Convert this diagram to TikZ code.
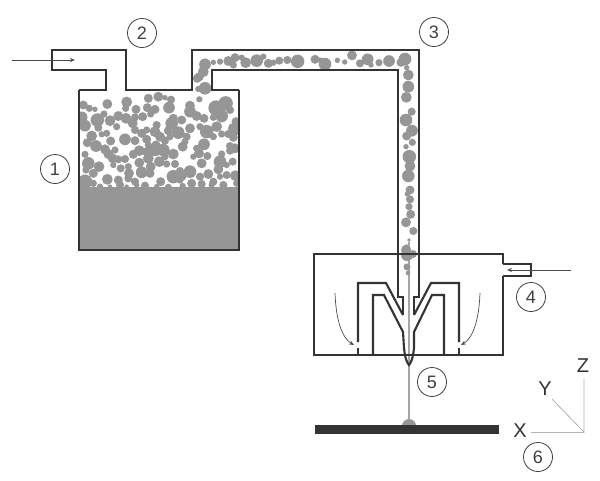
\documentclass[tikz,border=0pt]{standalone}
\usepackage{fontspec}
\setmainfont{Liberation Sans}
\usetikzlibrary{arrows.meta}
\definecolor{wall}{HTML}{333333}
\definecolor{grain}{HTML}{969696}
\tikzset{
  wallline/.style={draw=wall,line width=2.1pt,line join=miter},
  thinwall/.style={draw=wall,line width=1.4pt},
  callout/.style={circle,draw=black!75,line width=0.8pt,minimum size=29pt,inner sep=0pt,font=\fontsize{18}{18}\selectfont,text=black!75},
  axisname/.style={inner sep=0pt,font=\fontsize{20}{20}\selectfont,text=black!80},
  axisline/.style={draw=black!30,line width=0.8pt},
  flow/.style={draw=black!70,line width=0.7pt,-{Stealth[length=5pt,width=4pt]}}
}
\begin{document}
\begin{tikzpicture}[x=1pt,y=-1pt]
\useasboundingbox (0,0) rectangle (600,480);
\fill[white] (0,0) rectangle (600,480);
% powder
\fill[grain] (79,187) rectangle (239,250);
\begin{scope}
\clip (79,90) rectangle (239,190);
\foreach \x/\y/\r in {445/265/10,475/260/11,495/263/6,513/269/9,598/268/7,322/282/11,380/276/12,677/280/16,648/294/17,250/285/10,268/295/8,285/298/6,442/293/10,465/298/10,507/293/13,570/287/11,408/298/10,377/295/8,690/300/9,
245/322/13,292/330/15,330/332/12,355/318/11,378/325/12,428/320/10,452/312/8,520/325/10,545/330/10,570/305/13,590/318/11,612/325/10,640/322/8,665/318/14,312/312/8,398/340/11,255/347/13,295/353/9,350/350/8,405/322/9,515/340/14,
708/335/10,700/355/12,650/350/12,620/365/15,570/355/11,600/350/8,535/368/14,505/362/10,470/345/9,465/365/12,440/360/8,405/360/9,425/370/10,275/378/12,262/398/10,320/370/8,305/373/7,332/393/10,375/388/13,405/392/10,440/388/10,480/380/11,510/380/8,560/380/9,640/380/8,665/372/8,685/372/9,700/382/10,708/365/8,
288/408/13,315/418/11,325/432/11,345/420/8,338/445/11,355/448/9,375/447/9,548/410/11,555/395/8,495/392/9,468/405/10,445/405/8,418/422/12,400/433/10,440/425/10,465/420/14,490/420/14,520/432/12,495/440/8,612/403/13,590/415/8,597/430/11,580/440/7,622/438/9,690/408/9,705/415/11,690/422/9,665/432/8,255/433/8,
265/460/14,297/470/12,258/480/8,340/465/7,362/475/9,385/470/8,418/458/11,445/445/12,478/455/12,452/470/11,500/462/8,525/462/9,605/460/11,660/455/14,655/478/11,698/455/9,680/465/7,570/485/14,540/483/9,280/490/10,387/490/11,425/487/13,450/490/10,520/500/15,545/498/11,625/492/11,600/500/9,680/495/9,706/497/12,660/500/7,
255/515/16,322/508/12,355/510/10,385/505/9,405/515/9,482/515/10,540/510/8,280/520/8,360/525/9,410/525/6,575/520/10,605/522/9,640/515/9,670/525/9,710/520/8,435/527/9,505/532/8,548/528/7,470/530/6,635/525/7,245/530/7,300/530/7,330/530/5,380/530/5}
  \fill[grain] (\x/3,10+\y/3) circle[radius=1.35*\r/3];
\end{scope}
\foreach \x/\y/\r in {75/163/13,100/157/6,120/155/7,145/153/11,165/143/10,185/143/7,160/165/8,197/158/12,230/152/14,250/140/7,265/160/10,280/158/7,298/152/9,322/150/9,353/154/15,405/148/10,420/150/6,435/162/14,472/151/6,494/156/6,516/136/11,540/160/9,563/148/13,573/165/6,597/158/8,627/153/13,663/157/10,675/147/14,680/173/6,685/195/12,685/230/13,679/262/12,695/305/9,678/330/14,696/362/13,680/378/10,697/397/8,678/410/6,688/440/15,690/468/12,685/498/14,690/540/10,682/552/6,690/568/9,687/590/8,692/613/10,678/637/11,700/663/9,687/690/4,680/715/9,70/185/12,58/200/10,52/205/10,75/235/14,55/237/7}
  \fill[grain] (180+\x/3,10+\y/3) circle[radius=1.35*\r/3];
% stream
\draw[black!35,line width=2.6pt] (409,242) -- (409,425);
\foreach \x/\y/\r in {406/250/5,407/255/6,413/254/4,407/267/3.5,408/273/2.3}
  \fill[grain] (\x,\y) circle[radius=\r];
\fill[grain] (402,426) arc[start angle=180,end angle=360,radius=7];
% substrate
\fill[black!80] (315,425) rectangle (499,434);
% feed pipe and tank
\path[wallline] (79,90) -- (106,90) -- (106,70) -- (52,70) -- (52,50) -- (126,50) -- (126,90) -- (192,90) -- (192,50) -- (419,50) -- (419,297) -- (414,297) -- (414,315);
\path[wallline] (239,90) -- (212,90) -- (212,70) -- (398,70) -- (398,297) -- (403,297) -- (403,315);
\path[wallline] (79,90) -- (79,250) -- (239,250) -- (239,90);
% chamber
\path[wallline] (503,264) -- (503,254) -- (314,254) -- (314,355) -- (503,355) -- (503,276);
\path[wallline] (503,264) -- (531,264) -- (531,276) -- (503,276);
% nozzle
\path[wallline] (358,342) -- (358,283) -- (386,283) -- (403,315);
\path[wallline] (459,342) -- (459,283) -- (431,283) -- (414,315);
\path[wallline] (373,355) -- (373,295) -- (384,295) -- (403,332) -- (404,348) .. controls (405,358) and (407,363) .. (409,365) .. controls (411,363) and (413,358) .. (414,348) -- (414,332) -- (432,295) -- (444,295) -- (444,355);
\path[thinwall] (358,348) -- (358,355);
\path[thinwall] (459,348) -- (459,355);
% flow arrows
\coordinate (inA) at (12,60);
\coordinate (inB) at (75,60);
\coordinate (gasA) at (571,270);
\coordinate (gasB) at (507,270);
\coordinate (lA) at (335,293);
\coordinate (lB) at (354,345);
\coordinate (rA) at (480,293);
\coordinate (rB) at (461,345);
\draw[flow] (inA) -- (inB);
\draw[flow] (gasA) -- (gasB);
\draw[flow] (lA) .. controls (336,320) and (342,338) .. (lB);
\draw[flow] (rA) .. controls (479,320) and (473,338) .. (rB);
% callouts
\node[callout] (n1) at (55,169) {1};
\node[callout] (n2) at (142,33) {2};
\node[callout] (n3) at (434,32) {3};
\node[callout] (n4) at (531,297) {4};
\node[callout] (n5) at (432,382) {5};
\node[callout] (n6) at (538,457) {6};
% axes
\coordinate (o) at (584,432);
\coordinate (az) at (584,379);
\coordinate (ay) at (552,399);
\coordinate (ax) at (531,432);
\draw[axisline] (az) -- (o) -- (ay);
\draw[axisline] (ax) -- (o);
\node[axisname] (lz) at (583,366) {Z};
\node[axisname] (ly) at (545,389) {Y};
\node[axisname] (lx) at (520,431) {X};
\end{tikzpicture}
\end{document}
